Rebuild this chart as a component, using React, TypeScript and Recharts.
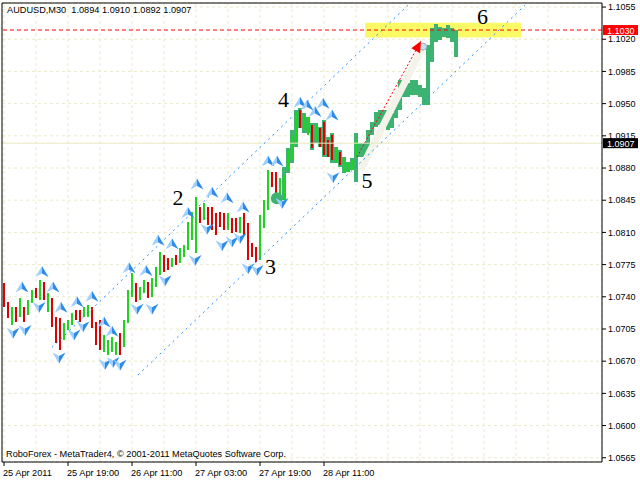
import React from 'react';
import {
  ComposedChart, Bar, XAxis, YAxis, CartesianGrid, Scatter,
  ReferenceLine, ReferenceArea, ReferenceDot,
} from 'recharts';

// one slot = one hour (two M30 bars), starting 25 Apr 2011 03:00
const barHigh = [
  1.0755, 1.0734, 1.0729, 1.0729, 1.0739, 1.0729, 1.0737, 1.0747, 1.0750, 1.0758,
  1.0756, 1.0744, 1.0739, 1.0718, 1.0717, 1.0712, 1.0715, 1.0722, 1.0726, 1.0726,
  1.0729, 1.0731, 1.0729, 1.0713, 1.0715, 1.0698, 1.0693, 1.0696, 1.0691, 1.0701,
  1.0715, 1.0747, 1.0766, 1.0755, 1.0751, 1.0758, 1.0756, 1.0760, 1.0772, 1.0789,
  1.0785, 1.0782, 1.0782, 1.0785, 1.0793, 1.0796, 1.0821, 1.0832, 1.0848, 1.0838,
  1.0842, 1.0838, 1.0838, 1.0831, 1.0832, 1.0831, 1.0831, 1.0826, 1.0826, 1.0827,
  1.0831, 1.0820, 1.0798, 1.0794, 1.0829, 1.0845, 1.0878, 1.0876, 1.0876, 1.0869,
  1.0872, 1.0900, 1.0916, 1.0941, 1.0943, 1.0938, 1.0935, 1.0927, 1.0927, 1.0923,
  1.0930, 1.0910, 1.0916, 1.0902, 1.0897, 1.0891, 1.0885, 1.0889, 1.0910,
];
const barLow = [
  1.0729, 1.0717, 1.0709, 1.0713, 1.0718, 1.0713, 1.0720, 1.0733, 1.0739, 1.0737,
  1.0737, 1.0723, 1.0707, 1.0690, 1.0682, 1.0693, 1.0704, 1.0709, 1.0715, 1.0713,
  1.0718, 1.0718, 1.0706, 1.0688, 1.0682, 1.0680, 1.0677, 1.0680, 1.0677, 1.0677,
  1.0685, 1.0712, 1.0740, 1.0734, 1.0737, 1.0744, 1.0739, 1.0740, 1.0751, 1.0764,
  1.0767, 1.0769, 1.0772, 1.0775, 1.0777, 1.0783, 1.0791, 1.0802, 1.0788, 1.0820,
  1.0823, 1.0818, 1.0813, 1.0807, 1.0816, 1.0813, 1.0813, 1.0809, 1.0810, 1.0809,
  1.0807, 1.0780, 1.0783, 1.0778, 1.0780, 1.0815, 1.0834, 1.0859, 1.0848, 1.0848,
  1.0845, 1.0878, 1.0889, 1.0907, 1.0923, 1.0921, 1.0916, 1.0902, 1.0910, 1.0903,
  1.0894, 1.0892, 1.0889, 1.0887, 1.0883, 1.0876, 1.0876, 1.0878, 1.0892,
];
// 1 = bullish bar, 0 = bearish bar
const barUp = [
  0, 0, 1, 0, 1, 0, 1, 1, 0, 1,
  0, 1, 0, 0, 0, 1, 1, 1, 0, 0,
  1, 1, 0, 0, 0, 1, 1, 1, 1, 0,
  1, 1, 1, 0, 1, 1, 0, 1, 1, 1,
  0, 0, 1, 0, 1, 1, 1, 1, 1, 0,
  1, 0, 0, 0, 0, 0, 1, 0, 0, 1,
  0, 0, 0, 0, 1, 1, 1, 0, 0, 1,
  1, 1, 1, 1, 0, 1, 1, 0, 1, 0,
  0, 0, 0, 1, 0, 1, 1, 1, 1,
];

// thick green projection, from slot 70 on
const bandStart = 70;
const bandHigh = [
  1.0881, 1.0902, 1.0921, 1.0943, 1.0945, 1.0940, 1.0935, 1.0929, 1.0929, 1.0925,
  1.0932, 1.0914, 1.0918, 1.0903, 1.0900, 1.0892, 1.0887, 1.0891, 1.0918, 1.0907,
  1.0907, 1.0921, 1.0930, 1.0941, 1.0943, 1.0943, 1.0943, 1.0940, 1.0954, 1.0976,
  1.0976, 1.0972, 1.0976, 1.0976, 1.0970, 1.0967, 1.1014, 1.1032, 1.1037, 1.1033,
  1.1032, 1.1036, 1.1032, 1.1030,
];
const bandLow = [
  1.0845, 1.0875, 1.0885, 1.0903, 1.0923, 1.0918, 1.0918, 1.0900, 1.0907, 1.0903,
  1.0892, 1.0892, 1.0885, 1.0885, 1.0881, 1.0875, 1.0876, 1.0878, 1.0865, 1.0892,
  1.0892, 1.0896, 1.0916, 1.0925, 1.0927, 1.0925, 1.0921, 1.0923, 1.0934, 1.0943,
  1.0957, 1.0957, 1.0959, 1.0959, 1.0957, 1.0948, 1.0948, 1.0995, 1.1017, 1.1019,
  1.1022, 1.1021, 1.1017, 1.1001,
];

const timeLabels = ['25 Apr 2011', '25 Apr 19:00', '26 Apr 11:00', '27 Apr 03:00', '27 Apr 19:00', '28 Apr 11:00'];
const priceTicks = [
  1.0565, 1.06, 1.0635, 1.067, 1.0705, 1.074, 1.0775, 1.081,
  1.0845, 1.088, 1.0915, 1.095, 1.0985, 1.102, 1.1055,
];

const fractalsUp = [
  { i: 4.5, p: 1.0750 }, { i: 9.5, p: 1.0767 }, { i: 12.25, p: 1.0750 }, { i: 14.25, p: 1.0728 },
  { i: 18.25, p: 1.0734 }, { i: 22, p: 1.0740 }, { i: 25, p: 1.0712 }, { i: 27, p: 1.0702 },
  { i: 31.25, p: 1.0771 }, { i: 35.5, p: 1.0768 }, { i: 38.5, p: 1.0801 }, { i: 42, p: 1.0797 },
  { i: 46, p: 1.0831 }, { i: 48.25, p: 1.0862 }, { i: 52, p: 1.0853 }, { i: 55.75, p: 1.0847 },
  { i: 59.75, p: 1.0837 }, { i: 66, p: 1.0887 }, { i: 68.25, p: 1.0887 }, { i: 74, p: 1.0951 },
  { i: 75.75, p: 1.0948 }, { i: 77.75, p: 1.0941 }, { i: 79.75, p: 1.0950 }, { i: 82, p: 1.0937 },
];
const fractalsDown = [
  { i: 2.25, p: 1.0701 }, { i: 5.25, p: 1.0704 }, { i: 8.75, p: 1.0729 }, { i: 13.75, p: 1.0674 },
  { i: 17.5, p: 1.0699 }, { i: 19.75, p: 1.0708 }, { i: 25.25, p: 1.0667 }, { i: 27.25, p: 1.0669 },
  { i: 29, p: 1.0666 }, { i: 33.25, p: 1.0727 }, { i: 37, p: 1.0727 }, { i: 40.25, p: 1.0758 },
  { i: 47.75, p: 1.0780 }, { i: 50.75, p: 1.0814 }, { i: 54.5, p: 1.0796 }, { i: 57, p: 1.0800 },
  { i: 59, p: 1.0804 }, { i: 61, p: 1.0771 }, { i: 63.25, p: 1.0769 }, { i: 69.5, p: 1.0842 },
  { i: 82.25, p: 1.0870 },
];

const waveLabels = [
  { t: '2', i: 43.5, p: 1.0840 }, { t: '3', i: 66.6, p: 1.0765 }, { t: '4', i: 69.9, p: 1.0946 },
  { t: '5', i: 90.75, p: 1.0858 }, { t: '6', i: 119.6, p: 1.1037 },
];

const channelUpper = [{ i: 12, p: 1.0685 }, { i: 101, p: 1.1057 }];
const channelLower = [{ i: 33.5, p: 1.0655 }, { i: 130.25, p: 1.1057 }];
const arrowPath = [{ i: 88.25, p: 1.0892 }, { i: 104.25, p: 1.1018 }];
const arrowGlow = [{ i: 89.5, p: 1.0881 }, { i: 104.75, p: 1.1012 }];
const targetZone = [90.25, 129.25, 1.1022, 1.1038];
const targetLevel = 1.103;
const bidLevel = 1.0907;
const startDot = { i: 68.2, p: 1.0847 };

const FONT = '"Liberation Sans", Arial, sans-serif';
const GREEN = '#1fd41f';
const RED = '#e00000';
const BAND = '#3cb371';
const SLOTS = 150;

const rows = Array.from({ length: bandStart + bandHigh.length }, (_, i) => ({
  i,
  bar: i < barHigh.length ? [barLow[i], barHigh[i]] : null,
  up: barUp[i] === 1,
  band: i >= bandStart ? [bandLow[i - bandStart], bandHigh[i - bandStart]] : null,
}));

const gridTicks = Array.from({ length: SLOTS / 8 }, (_, k) => k * 8);

const seg = (a: any[]) => [{ x: a[0].i, y: a[0].p }, { x: a[1].i, y: a[1].p }];

// draw a low-high range as a crisp rect of fixed pixel width, centred on the slot
function rangeRect(p: any, color: string, w: number) {
  const y = Math.min(p.y, p.y + p.height);
  const h = Math.max(1, Math.abs(p.height));
  const cx = Math.round(p.x + p.width / 2);
  return <rect x={cx - w / 2} y={y} width={w} height={h} fill={color} shapeRendering="crispEdges" />;
}

function TimeTick(props: any) {
  const { x, y, payload } = props;
  const v = payload.value;
  const k = v / 16;
  if (v % 16 !== 0 || k >= timeLabels.length) return <g />;
  return (
    <g>
      <line x1={x} x2={x} y1={y - 6} y2={y - 2} stroke="#000" />
      <text x={x - 1} y={y + 8} fontSize={9.2} fontFamily={FONT} fill="#000">{timeLabels[k]}</text>
    </g>
  );
}

function PriceTag(props: any) {
  const { viewBox, text, bg } = props;
  if (!viewBox) return null;
  const x = viewBox.x + viewBox.width + 1;
  const y = viewBox.y;
  return (
    <g>
      <rect x={x} y={y - 5} width={35} height={10} fill={bg} />
      <text x={x + 4} y={y + 3.5} fill="#fff" fontSize={9} fontFamily={FONT}>{text}</text>
    </g>
  );
}

function Fractal({ cx, cy, dir }: any) {
  const tip = cy - 6 * dir;
  const wing = cy + 5 * dir;
  const notch = cy + 1.5 * dir;
  return (
    <g>
      <polygon points={`${cx},${tip} ${cx - 6.5},${wing} ${cx},${notch}`} fill="#9ccfff" />
      <polygon points={`${cx},${tip} ${cx + 6.5},${wing} ${cx},${notch}`} fill="#2f8be8" />
    </g>
  );
}

export default function App() {
  return (
    <div style={{ position: 'absolute', left: 0, top: 0, width: 640, height: 480, background: '#fff', fontFamily: FONT }}>
      <ComposedChart width={640} height={480} data={rows} margin={{ top: 3, right: 0, bottom: 0, left: 2 }}>
        <CartesianGrid stroke="#ebeacc" strokeDasharray="3 3" />
        <XAxis
          dataKey="i" type="number" domain={[-0.5, SLOTS - 0.5]} ticks={gridTicks} interval={0}
          height={18} tickSize={4} tickMargin={2} tickLine={false} axisLine={{ stroke: '#000' }}
          tick={<TimeTick />} allowDataOverflow
        />
        <XAxis xAxisId="b" dataKey="i" type="number" domain={[-0.5, SLOTS - 0.5]} hide allowDataOverflow />
        <YAxis
          orientation="right" type="number" domain={[1.05604, 1.10594]} ticks={priceTicks} interval={0}
          width={38} tickSize={4} tickMargin={2} axisLine={{ stroke: '#000' }} tickLine={{ stroke: '#000' }}
          tick={{ fill: '#000', fontSize: 9, fontFamily: FONT }} tickFormatter={(v: number) => v.toFixed(4)}
          allowDataOverflow
        />
        <ReferenceArea x1={targetZone[0]} x2={targetZone[1]} y1={targetZone[2]} y2={targetZone[3]} fill="#fafa66" fillOpacity={1} stroke="none" />
        <ReferenceLine segment={seg(arrowGlow)} stroke="#f3f3ea" strokeWidth={7} strokeLinecap="round" />
        <ReferenceLine y={bidLevel} stroke="#e8e7bf" label={<PriceTag text={bidLevel.toFixed(4)} bg="#000" />} />
        <Bar xAxisId="b" dataKey="band" barSize={4} isAnimationActive={false}
          shape={(p: any) => (p.payload && p.payload.band ? rangeRect(p, BAND, 4) : <g />)} />
        <Bar dataKey="bar" barSize={2} isAnimationActive={false}
          shape={(p: any) => (p.payload && p.payload.bar ? rangeRect(p, p.payload.up ? GREEN : RED, 1.5) : <g />)} />
        <ReferenceLine x={-0.5} stroke="#000" />
        <ReferenceLine y={1.10594} stroke="#000" />
        <ReferenceLine segment={seg(channelUpper)} stroke="#1e90ff" strokeDasharray="2 4" />
        <ReferenceLine segment={seg(channelLower)} stroke="#1e90ff" strokeDasharray="2 4" />
        <ReferenceLine y={targetLevel} stroke="#ff0000" strokeDasharray="4 3"
          label={<PriceTag text={targetLevel.toFixed(4)} bg="#ff0000" />} />
        <ReferenceLine segment={seg(arrowPath)} stroke="#ff0000" strokeDasharray="2 2" />
        <ReferenceDot x={arrowGlow[1].i} y={arrowGlow[1].p} r={3.5} fill="#c5e3ee" stroke="#aab" />
        <ReferenceDot x={arrowPath[1].i} y={arrowPath[1].p} r={1}
          shape={(p: any) => (
            <polygon transform={`translate(${p.cx},${p.cy}) rotate(-61)`} points="0,0 -11,-5 -11,5" fill="#ff0000" />
          )} />
        <ReferenceDot x={startDot.i} y={startDot.p} r={6} fill={BAND} stroke="none" />
        <Scatter data={fractalsUp} dataKey="p" isAnimationActive={false}
          shape={(p: any) => <Fractal cx={p.cx} cy={p.cy} dir={1} />} />
        <Scatter data={fractalsDown} dataKey="p" isAnimationActive={false}
          shape={(p: any) => <Fractal cx={p.cx} cy={p.cy} dir={-1} />} />
        <Scatter data={waveLabels} dataKey="p" isAnimationActive={false}
          shape={(p: any) => (
            <text x={p.cx} y={p.cy} textAnchor="middle" fontSize={22} fontFamily='"Liberation Serif", serif' fill="#000">
              {p.payload ? p.payload.t : p.t}
            </text>
          )} />
      </ComposedChart>
      <div style={{ position: 'absolute', left: 7, top: 5, fontSize: 9.2, lineHeight: '11px', whiteSpace: 'pre', color: '#000' }}>
        AUDUSD,M30  1.0894 1.0910 1.0892 1.0907
      </div>
      <div style={{ position: 'absolute', left: 6, top: 449, fontSize: 9.2, lineHeight: '11px', whiteSpace: 'pre', color: '#000' }}>
        RoboForex - MetaTrader4, © 2001-2011 MetaQuotes Software Corp.
      </div>
    </div>
  );
}
